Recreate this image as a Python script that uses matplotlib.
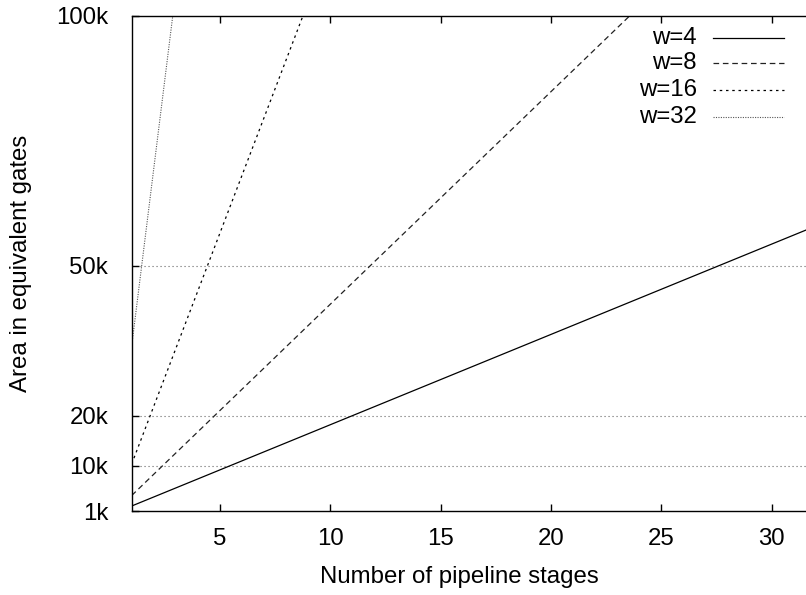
import matplotlib
matplotlib.use("Agg")
import matplotlib.pyplot as plt
from matplotlib.lines import Line2D

plt.rcParams['font.family'] = ['Liberation Sans', 'DejaVu Sans']

# Data (pipeline stages vs area in equivalent gates)
stages = [1, 32]
area_w4 = [2000, 58000]
area_w8 = [4100, 135900]
area_w16 = [10400, 368500]
area_w32 = [34000, 1134500]
series_labels = ["w=4", "w=8", "w=16", "w=32"]
x_ticks = [5, 10, 15, 20, 25, 30]
y_ticks = [1000, 10000, 20000, 50000, 100000]
y_tick_labels = ["1k", "10k", "20k", "50k", "100k"]
grid_levels = [10000, 20000, 50000]

W, H = 806, 595
fig = plt.figure(figsize=(W / 100, H / 100), dpi=100)
left_px, right_px, top_px, bottom_px = 131.7, 815.9, 16, 511
ax = fig.add_axes([left_px / W, 1 - bottom_px / H, (right_px - left_px) / W, (bottom_px - top_px) / H])

styles = [
    dict(color='black', lw=0.9, linestyle='-'),
    dict(color='#222222', lw=0.9, linestyle=(0, (4.5, 3.0))),
    dict(color='black', lw=0.9, linestyle=(0, (2.0, 3.0))),
    dict(color='#555555', lw=0.8, linestyle=(0, (1.0, 1.2))),
]
series = [area_w4, area_w8, area_w16, area_w32]
for ys, st in zip(series, styles):
    ax.plot(stages, ys, **st)

for g in grid_levels:
    ax.axhline(g, color='#666666', lw=0.8, linestyle=(0, (1.0, 2.6)), zorder=0)

ax.set_xlim(1, 32)
ax.set_ylim(1000, 100000)
ax.set_xticks(x_ticks)
ax.set_yticks(y_ticks)
ax.set_yticklabels(y_tick_labels)
ax.tick_params(axis='both', direction='in', length=5, width=1, labelsize=17.3, top=True, right=True)
ax.tick_params(axis='x', pad=12.5)
ax.tick_params(axis='y', pad=17)
for s in ax.spines.values():
    s.set_linewidth(1.0)

fig.text(21 / W, 1 - 263 / H, "Area in equivalent gates", rotation=90, ha='center', va='center', fontsize=17.3)
fig.text(459 / W, 1 - 577 / H, "Number of pipeline stages", ha='center', va='center', fontsize=17.3)

# Legend (gnuplot style: right-aligned text then sample)
rows_y = [37.7, 63.3, 90, 116.7]
for lab, yrow, st in zip(series_labels, rows_y, styles):
    fig.text(697 / W, 1 - yrow / H, lab, ha='right', va='center', fontsize=17.3)
    fig.add_artist(Line2D([713 / W, 784 / W], [1 - yrow / H, 1 - yrow / H], transform=fig.transFigure, **st))

fig.savefig("out.png", dpi=100)
